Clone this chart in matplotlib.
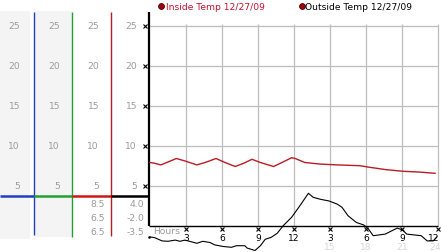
"""
plot.py - recreate the daily inside / outside temperature strip chart (12/27/09).
"""

import matplotlib
matplotlib.use("Agg")
import matplotlib.pyplot as plt

# ---- data -----------------------------------------------------------------
inside_hours = [0, 0.4, 0.9, 1.4, 2.2, 2.9, 3.9, 4.6, 5.5, 6.25, 7.1, 7.8, 8.5,
                9.2, 10.3, 11.0, 11.8, 12.1, 12.9, 14.2, 15.6, 17.5, 18.3, 19.7,
                21.1, 22.5, 23.75]
inside_temp = [7.9, 7.8, 7.6, 7.9, 8.4, 8.1, 7.6, 7.9, 8.4, 7.9, 7.4, 7.8, 8.3,
               7.9, 7.4, 7.9, 8.5, 8.4, 7.9, 7.7, 7.6, 7.5, 7.3, 7.0,
               6.8, 6.7, 6.55]

outside_hours = [0, 0.4, 1.0, 1.5, 2.1, 2.5, 2.9, 3.3, 3.9, 4.4, 5.0, 5.4, 6.1,
                 6.8, 7.2, 7.9, 8.1, 8.75, 9.2, 9.6, 10.1, 10.6, 11.1, 11.8,
                 12.4, 13.2, 13.6, 14.2, 14.9, 15.6, 16.0, 16.5, 17.2, 17.8,
                 18.2, 18.6, 19.6, 20.6, 21.0, 21.4, 22.6, 23.1, 23.6, 23.9]
outside_temp = [-1.4, -1.5, -1.9, -1.95, -1.8, -1.95, -1.8, -1.95, -2.2, -1.95,
                -2.1, -2.4, -2.6, -2.7, -2.5, -2.5, -2.8, -3.1, -2.5, -1.7,
                -1.45, -0.95, 0.0, 1.05, 2.3, 4.05, 3.55, 3.3, 3.1, 2.7, 2.3,
                1.25, 0.4, 0.1, -0.4, -1.25, -1.05, -0.3, -0.5, -1.05, -1.25,
                -1.9, -1.9, -1.4]

y_levels = [25, 20, 15, 10, 5]
hour_ticks = [3, 6, 9, 12, 15, 18, 21, 24]
hour_labels = ["3", "6", "9", "12", "3", "6", "9", "12"]
late_labels = ["15", "18", "21", "24"]
inside_stats = ["8.5", "6.5", "6.5"]
outside_stats = ["4.0", "-2.0", "-3.5"]
legend_labels = ["Inside Temp 12/27/09", "Outside Temp 12/27/09"]

# ---- styling ---------------------------------------------------------------
W, H = 442, 253
RED = "#c8102e"
RED_LINE = "#b81c24"
BLUE = "#1f3fbf"
GREEN = "#22a032"
GRID = "#bdbdbd"
LABEL_GREY = "#9a9a9a"
PANEL_BG = "#f4f4f4"
FS = 6.6

# vertical scale: 8 px per degree, zero sits at pixel row 226.7
PX_PER_UNIT = 8.0
ZERO_ROW = 226.7


def val(r):
    """temperature value at a pixel row (from top)"""
    return (ZERO_ROW - r) / PX_PER_UNIT


fig = plt.figure(figsize=(W / 100, H / 100), dpi=100)
fig.patch.set_facecolor("white")

# main chart axes: hours 0..24 over pixel columns 150..438
ax = fig.add_axes([150 / W, 0, 288 / W, 1])
ax.set_xlim(0, 24)
ax.set_ylim(val(H), val(0))
ax.axis("off")

# left label panel sharing the same vertical scale, x in pixel columns
axl = fig.add_axes([0, 0, 150 / W, 1], sharey=ax)
axl.set_xlim(0, 150)
axl.axis("off")

# grid
ax.hlines(y_levels, 0, 24, colors=GRID, lw=0.9, clip_on=False)
ax.vlines(hour_ticks, 0, val(25), colors=GRID, lw=0.9, clip_on=False)

# axes lines
ax.vlines(-0.08, 0, val(13), colors="black", lw=1.6, clip_on=False)
ax.hlines(0, -0.08, 24, colors="black", lw=1.0, clip_on=False)

# little tick glyphs
ax.plot([-0.42] * len(y_levels), y_levels, ls="none", marker="x", ms=2.6,
        mew=0.8, color="black", clip_on=False)
ax.plot(hour_ticks, [val(229.5)] * len(hour_ticks), ls="none", marker="x",
        ms=2.6, mew=0.8, color="black", clip_on=False)

# hour labels (last ones pulled inside the right edge)
for h, lab in zip(hour_ticks, hour_labels):
    if h == 24:
        ax.text(24.15, val(238.5), lab, ha="right", va="center", fontsize=FS,
                color="black", clip_on=False)
    else:
        ax.text(h, val(238.5), lab, ha="center", va="center", fontsize=FS,
                color="black", clip_on=False)
for h, lab in zip(hour_ticks[4:], late_labels):
    if h == 24:
        ax.text(24.25, val(248), lab, ha="right", va="center", fontsize=FS,
                color="#d6d6d6", clip_on=False)
    else:
        ax.text(h, val(248), lab, ha="center", va="center", fontsize=FS,
                color="#d6d6d6", clip_on=False)
ax.text(0.25, val(231.5), "Hours", ha="left", va="center", fontsize=FS,
        color=LABEL_GREY, clip_on=False)

# temperature lines
ax.plot(inside_hours, inside_temp, color=RED_LINE, lw=1.0, clip_on=False)
ax.plot(outside_hours, outside_temp, color="black", lw=0.8, clip_on=False)

# legend
ax.plot([0.92], [val(7)], marker="o", ms=4.2, mfc="#a00010", mec="#400000",
        mew=0.6, ls="none", clip_on=False)
ax.text(1.33, val(7.5), legend_labels[0], ha="left", va="center",
        fontsize=FS, color=RED, clip_on=False)
ax.plot([12.64], [val(7)], marker="o", ms=4.2, mfc="#a00010", mec="#400000",
        mew=0.6, ls="none", clip_on=False)
ax.text(12.95, val(7.5), legend_labels[1], ha="left", va="center",
        fontsize=FS, color="black", clip_on=False)

# ---- left panel -------------------------------------------------------------
axl.fill_between([0, 30], val(240), val(12), color=PANEL_BG, lw=0)
axl.fill_between([35, 72], val(238), val(12), color=PANEL_BG, lw=0)

col_right = [20, 60, 99, 137]
for xr in col_right:
    for lv in y_levels:
        axl.text(xr, lv, str(lv), ha="right", va="center", fontsize=FS,
                 color=LABEL_GREY)

for i, lab in enumerate(inside_stats):
    axl.text(105, val(205 + 14 * i), lab, ha="right", va="center",
             fontsize=FS, color=LABEL_GREY)
for i, lab in enumerate(outside_stats):
    axl.text(144, val(205 + 14 * i), lab, ha="right", va="center",
             fontsize=FS, color=LABEL_GREY)

axl.vlines(33.5, val(236), val(12.5), colors=BLUE, lw=1.0)
axl.vlines(72.3, val(238), val(12.5), colors=GREEN, lw=1.0)
axl.vlines(111.3, val(237), val(12.5), colors=RED_LINE, lw=1.0)
axl.plot([149], [val(238)], marker="s", ms=0.8, color="black")

sep = val(196.7)
axl.hlines(sep, 0, 33.5, colors=BLUE, lw=1.8)
axl.hlines(sep, 33.5, 72.3, colors=GREEN, lw=1.8)
axl.hlines(sep, 72.3, 111.3, colors="#d01818", lw=1.8)
axl.hlines(sep, 111.3, 150, colors="black", lw=1.8)

fig.savefig("out.png", dpi=100)
